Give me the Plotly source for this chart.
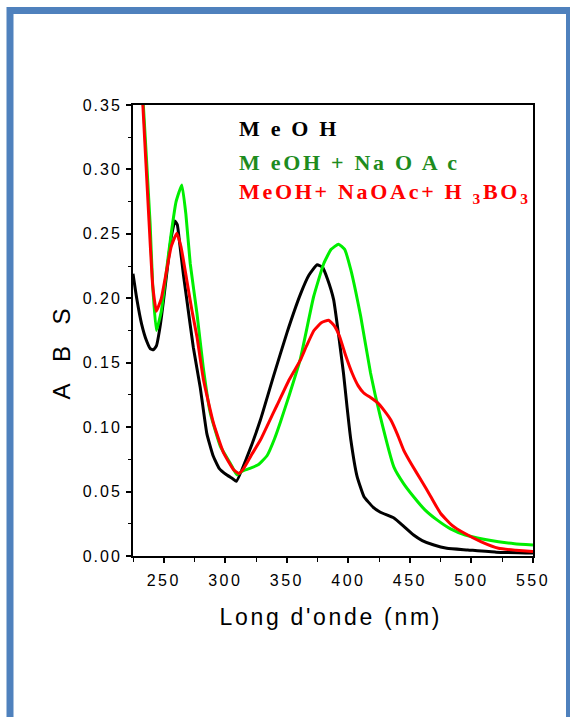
import plotly.graph_objects as go

# ---- data ----
wl_meoh = [225, 228, 232, 236, 239, 241.6, 244, 247, 250, 253, 256, 259, 261, 263, 266, 268.7, 274, 279.6, 285, 290, 295, 301, 306, 309,
           317.7, 328.5, 339.3, 350, 361, 368, 374.6, 379, 383, 388, 392, 396, 399,
           402, 407, 412.7, 420, 426, 437, 445, 453, 460, 469.5, 480, 497, 520, 550]
abs_meoh = [0.219, 0.200, 0.180, 0.167, 0.161, 0.160, 0.163, 0.178, 0.200, 0.224, 0.247, 0.260, 0.257, 0.242, 0.218, 0.199, 0.162, 0.131, 0.095, 0.078, 0.068, 0.063, 0.060, 0.058,
            0.077, 0.1055, 0.140, 0.173, 0.203, 0.218, 0.226, 0.224, 0.215, 0.199, 0.172, 0.142, 0.115,
            0.090, 0.062, 0.046, 0.038, 0.034, 0.0295, 0.023, 0.0163, 0.012, 0.0085, 0.006, 0.0047, 0.003, 0.0023]

wl_naoac = [225, 230, 233.4, 238.9, 241, 244, 248, 252, 256, 260, 264.7, 268, 271.5, 277, 282, 287.8, 296, 304,
            309.5, 314, 320, 327, 334, 340, 344.8, 352, 361, 371.7, 380, 386, 392, 397, 402, 406, 410, 418, 426,
            437, 445, 453, 462, 472, 483, 495, 510, 522, 535, 550]
abs_naoac = [0.45, 0.40, 0.350, 0.258, 0.210, 0.175, 0.190, 0.220, 0.250, 0.275, 0.288, 0.265, 0.227, 0.188, 0.147, 0.111, 0.085, 0.072,
             0.063, 0.066, 0.068, 0.071, 0.078, 0.091, 0.104, 0.125, 0.153, 0.201, 0.227, 0.238, 0.242, 0.238, 0.222, 0.205, 0.186, 0.142, 0.108,
             0.069, 0.056, 0.046, 0.036, 0.028, 0.021, 0.0163, 0.013, 0.011, 0.0095, 0.0085]

wl_boric = [225, 230, 233, 238, 241, 244, 248, 252, 256, 260.6, 264, 268.7, 273, 277, 282.3, 290.4, 298.6, 306.7,
            311, 315, 321, 328.5, 335, 342, 352, 361, 366, 372, 378, 384, 389, 393, 398, 403, 408, 412.5,
            418, 423.6, 429, 434.5, 440, 445, 452, 459, 467, 475, 484, 494, 508, 522, 536, 550]
abs_boric = [0.45, 0.40, 0.350, 0.260, 0.210, 0.190, 0.200, 0.220, 0.240, 0.2505, 0.240, 0.214, 0.190, 0.170, 0.1366, 0.103, 0.080, 0.067,
             0.064, 0.068, 0.078, 0.090, 0.103, 0.117, 0.137, 0.152, 0.163, 0.175, 0.181, 0.183, 0.178, 0.170, 0.155, 0.142, 0.132, 0.1265,
             0.123, 0.119, 0.113, 0.1055, 0.094, 0.082, 0.070, 0.059, 0.046, 0.033, 0.024, 0.0178, 0.011, 0.006, 0.0045, 0.0034]

series_names = ["M e O H", "M eOH + Na O A c", "MeOH+ NaOAc+ H <sub>3</sub>BO<sub>3</sub>"]
line_colors = ["#000000", "#00EE00", "#FF0000"]
label_colors = ["#000000", "#1E8C1E", "#FF0000"]

x_range = [225, 550]
y_range = [0, 0.35]
x_ticks = [250, 300, 350, 400, 450, 500, 550]
y_ticks = [0.00, 0.05, 0.10, 0.15, 0.20, 0.25, 0.30, 0.35]

# ---- figure ----
W, H = 570, 717
L, R, T, B = 133, 37, 105, 161
PW, PH = W - L - R, H - T - B


def px_x(p):
    return (p - L) / PW


def px_y(p):
    return (H - B - p) / PH


fig = go.Figure()
for wl, ab, col in [(wl_meoh, abs_meoh, line_colors[0]),
                    (wl_naoac, abs_naoac, line_colors[1]),
                    (wl_boric, abs_boric, line_colors[2])]:
    fig.add_trace(go.Scatter(x=wl, y=ab, mode="lines",
                             line=dict(color=col, width=3, shape="spline", smoothing=0.4),
                             showlegend=False, cliponaxis=True))

axis_font = dict(family="Liberation Sans, Arial, sans-serif", size=16, color="#000000")

fig.update_xaxes(range=x_range, tickvals=x_ticks, ticks="outside", ticklen=5, tickwidth=1.5,
                 tickcolor="#000000", showline=True, linewidth=2, linecolor="#000000", mirror=True,
                 showgrid=False, zeroline=False, tickfont=axis_font, ticklabelstandoff=4,
                 minor=dict(dtick=25, tick0=225, ticks="outside", ticklen=4, tickwidth=1.2, tickcolor="#000000"))
fig.update_yaxes(range=y_range, tickvals=y_ticks, tickformat=".2f", ticks="outside", ticklen=5, tickwidth=1.5,
                 tickcolor="#000000", showline=True, linewidth=2, linecolor="#000000", mirror=True,
                 showgrid=False, zeroline=False, tickfont=axis_font, ticklabelstandoff=1,
                 minor=dict(dtick=0.025, tick0=0, ticks="outside", ticklen=3, tickwidth=1.2, tickcolor="#000000"))

annots = []
# axis titles
annots.append(dict(x=px_x(331), y=px_y(617), xref="paper", yref="paper", text="Long d'onde (nm)",
                   showarrow=False, xanchor="center", yanchor="middle",
                   font=dict(family="Liberation Sans, Arial, sans-serif", size=23, color="#000000")))
annots.append(dict(x=px_x(61), y=px_y(353), xref="paper", yref="paper", text="A\u00a0\u00a0B\u00a0\u00a0S",
                   showarrow=False, xanchor="center", yanchor="middle", textangle=-90,
                   font=dict(family="Liberation Sans, Arial, sans-serif", size=24, color="#000000")))
# legend labels
for name, col, yp in zip(series_names, label_colors, [128, 162, 193]):
    annots.append(dict(x=px_x(237), y=px_y(yp), xref="paper", yref="paper", text="<b>" + name + "</b>",
                       showarrow=False, xanchor="left", yanchor="middle", align="left",
                       font=dict(family="Liberation Serif, Times New Roman, serif", size=22, color=col)))

shapes = [dict(type="rect", xref="paper", yref="paper",
               x0=px_x(10), x1=px_x(569.5), y0=px_y(740), y1=px_y(10.5),
               line=dict(color="#4F81BD", width=7), fillcolor="rgba(0,0,0,0)", layer="below")]

fig.update_layout(width=W, height=H, margin=dict(l=L, r=R, t=T, b=B, autoexpand=False),
                  paper_bgcolor="#FFFFFF", plot_bgcolor="#FFFFFF",
                  annotations=annots, shapes=shapes, showlegend=False)

post = """
document.body.style.margin='0';
document.body.style.overflow='hidden';
var gd = document.getElementsByClassName('plotly-graph-div')[0];
function spacing(){
  gd.querySelectorAll('.xtick text').forEach(function(t){t.style.letterSpacing='2.5px';});
  gd.querySelectorAll('.ytick text').forEach(function(t){t.style.letterSpacing='2px';});
  gd.querySelectorAll('.annotation-text').forEach(function(t){t.style.letterSpacing='2.7px';});
}
spacing();
"""

fig.write_html("out.html", post_script=post, config={"displayModeBar": False})
